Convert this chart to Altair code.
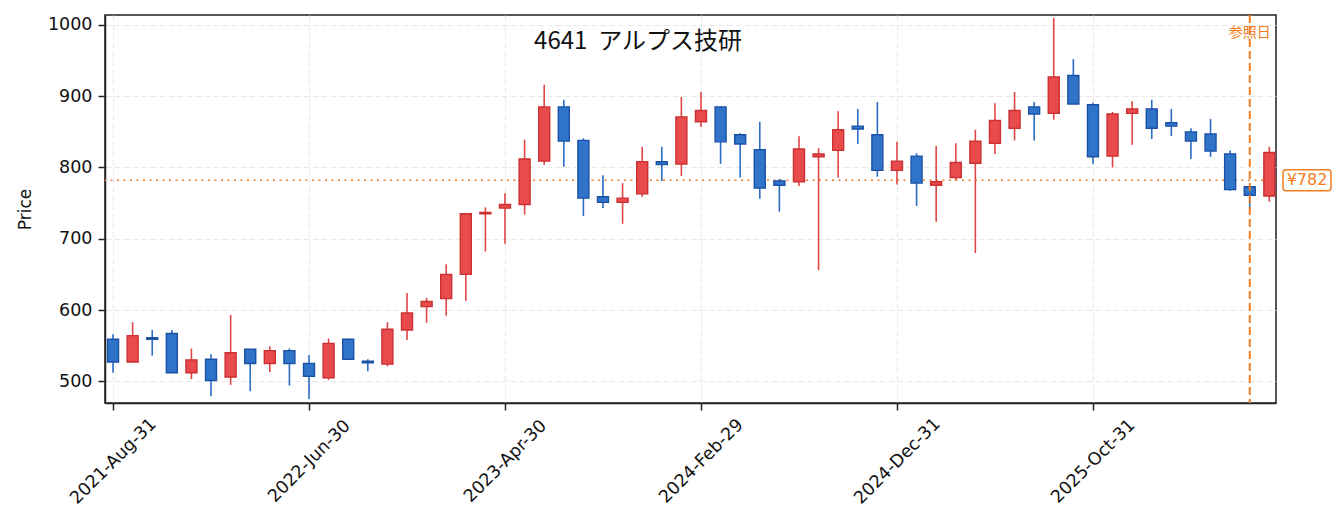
import altair as alt
import pandas as pd

# ---- data (monthly candles, index 0 = 2021-Aug) ----
opens  = [559, 527, 561, 567, 512, 531, 506, 545, 525, 543,
          525, 505, 559, 528, 524, 572, 605, 616, 650, 735,
          743, 748, 809, 885, 838, 759, 751, 763, 808, 805,
          864, 885, 846, 825, 781, 780, 815, 824, 858, 846,
          796, 816, 775, 786, 806, 834, 855, 885, 876, 929,
          888, 816, 876, 882, 863, 850, 847, 819, 773, 760]
highs  = [566, 583, 572, 572, 546, 538, 593, 545, 549, 546,
          537, 560, 560, 531, 583, 624, 617, 664, 736, 744,
          764, 839, 916, 895, 841, 789, 778, 829, 829, 899,
          906, 886, 848, 864, 784, 844, 827, 879, 882, 892,
          836, 820, 830, 834, 853, 890, 906, 892, 1010, 952,
          891, 878, 893, 895, 882, 855, 868, 824, 773, 829]
lows   = [512, 527, 536, 512, 503, 479, 495, 486, 513, 494,
          475, 502, 530, 514, 521, 558, 582, 592, 613, 682,
          693, 734, 804, 801, 732, 743, 721, 759, 781, 788,
          857, 805, 786, 756, 738, 774, 656, 786, 833, 787,
          776, 746, 724, 782, 680, 819, 838, 838, 867, 889,
          805, 800, 832, 840, 844, 812, 815, 767, 740, 752]
closes = [527, 564, 559, 512, 530, 501, 540, 525, 543, 525,
          507, 553, 531, 526, 573, 596, 612, 650, 735, 737,
          748, 812, 885, 837, 757, 751, 757, 808, 804, 871,
          880, 836, 833, 771, 775, 826, 819, 853, 854, 796,
          809, 778, 780, 807, 837, 866, 880, 875, 927, 889,
          815, 875, 882, 855, 858, 837, 823, 769, 761, 821]

tick_index  = [0, 10, 20, 30, 40, 50]
tick_labels = ["2021-Aug-31", "2022-Jun-30", "2023-Apr-30",
               "2024-Feb-29", "2024-Dec-31", "2025-Oct-31"]
y_ticks = [500, 600, 700, 800, 900, 1000]

ref_price = [782]
ref_index = [58]
title_text = "4641\u00a0\u00a0アルプス技研"
ref_date_text = "参照日"
price_label = "¥782"

# ---- build table ----
df = pd.DataFrame({
    "i": list(range(len(opens))),
    "open": opens, "high": highs, "low": lows, "close": closes,
})
df["dir"] = ["up" if c >= o else "down" for o, c in zip(opens, closes)]

ORANGE = "#F47C20"
JP = "Noto Sans CJK JP"
LAT = "DejaVu Sans"

label_expr = " : ".join(
    f"datum.value == {v} ? '{t}'" for v, t in zip(tick_index, tick_labels)
) + " : ''"

x_scale = alt.Scale(domain=[-0.41, 59.34], nice=False, zero=False, padding=0)
y_scale = alt.Scale(domain=[469.5, 1014], nice=False, zero=False)

x_enc = alt.X("i:Q", scale=x_scale, axis=alt.Axis(
    values=tick_index, labelExpr=label_expr, title=None,
    labelAngle=-45, labelAlign="center", labelBaseline="middle",
    labelPadding=51, tickSize=7, grid=True, gridDash=[6, 3],
    gridColor="#e8e8e8", labelFontSize=17.5, labelColor="#111"))
y_axis = alt.Axis(values=y_ticks, format="d", title="Price", grid=True,
                  gridDash=[6, 3], gridColor="#e8e8e8", tickSize=7,
                  labelPadding=6, labelFontSize=17.5, labelColor="#111",
                  titleFontSize=17, titleFontWeight="normal",
                  titleColor="#111", titlePadding=13)

base = alt.Chart(df)

wicks = base.mark_rule(strokeWidth=1.6).encode(
    x=x_enc,
    y=alt.Y("low:Q", scale=y_scale, axis=y_axis),
    y2="high:Q",
    color=alt.Color("dir:N", scale=alt.Scale(domain=["up", "down"],
                    range=["#E24545", "#2A6CC4"]), legend=None),
)

bodies = base.mark_bar(size=11, strokeWidth=1.4).encode(
    x=alt.X("i:Q", scale=x_scale),
    y=alt.Y("open:Q", scale=y_scale),
    y2="close:Q",
    fill=alt.Fill("dir:N", scale=alt.Scale(domain=["up", "down"],
                  range=["#E84B4B", "#2F74C8"]), legend=None),
    stroke=alt.Stroke("dir:N", scale=alt.Scale(domain=["up", "down"],
                      range=["#CC3030", "#1C52A6"]), legend=None),
)

ref_df = pd.DataFrame({"y": ref_price, "label": [price_label]})
hline = alt.Chart(ref_df).mark_rule(
    color=ORANGE, strokeDash=[2, 4.5], strokeWidth=1.6).encode(
    y=alt.Y("y:Q", scale=y_scale))

vdf = pd.DataFrame({"x": ref_index, "label": [ref_date_text]})
vline = alt.Chart(vdf).mark_rule(
    color=ORANGE, strokeDash=[8, 4], strokeWidth=2).encode(
    x=alt.X("x:Q", scale=x_scale))
vtext = alt.Chart(vdf).mark_text(
    color=ORANGE, fontSize=14, align="center", baseline="middle",
    font=JP).encode(
    x=alt.X("x:Q", scale=x_scale), y=alt.value(18), text="label:N")

box = alt.Chart(ref_df).mark_rect(
    fill="white", stroke=ORANGE, strokeWidth=1.5, cornerRadius=3,
    yOffset=10.5, y2Offset=-10.5).encode(
    x=alt.value(1178), x2=alt.value(1226),
    y=alt.Y("y:Q", scale=y_scale), y2="y:Q")
box_text = alt.Chart(ref_df).mark_text(
    color=ORANGE, fontSize=16, align="center", baseline="middle",
    font=LAT + ", " + JP).encode(
    x=alt.value(1202), y=alt.Y("y:Q", scale=y_scale), text="label:N")

title_df = pd.DataFrame({"t": [title_text]})
title = alt.Chart(title_df).mark_text(
    fontSize=24, color="#111", align="center", baseline="middle",
    font=JP).encode(x=alt.value(533), y=alt.value(27), text="t:N")

chart = alt.layer(
    hline, wicks, bodies, vline, vtext, box, box_text, title
).properties(
    width=1171, height=388,
    autosize=alt.AutoSizeParams(type="none"),
    padding={"left": 97, "top": 7, "right": 57, "bottom": 108},
).configure(
    font=LAT,
).configure_view(
    stroke="#222", strokeWidth=1.5,
).configure_axis(
    domainColor="#222", domainWidth=1.5, tickColor="#222", tickWidth=1.5,
    labelFont=LAT, titleFont=LAT,
)

chart.save("out.html", embed_options={"renderer": "svg", "actions": False})
